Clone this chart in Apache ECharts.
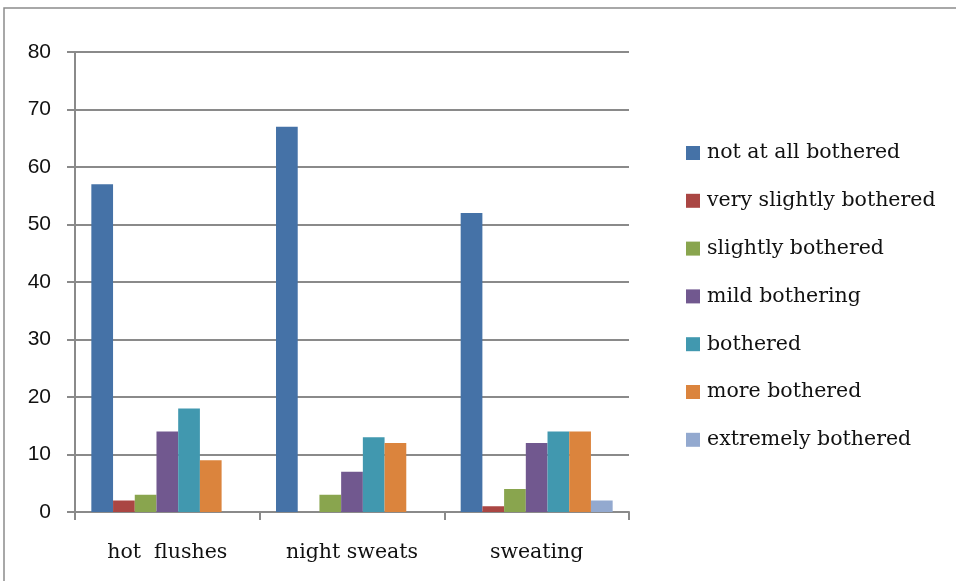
<!DOCTYPE html>
<html>
<head>
<meta charset="utf-8">
<script src="https://cdn.jsdelivr.net/npm/echarts@6/dist/echarts.min.js"></script>
<style>
  html, body { margin: 0; padding: 0; background: #ffffff; }
  #chart { width: 956px; height: 581px; }
</style>
</head>
<body>
<div id="chart"></div>
<script>
// Symptom categories along the x axis
const categories = ['hot  flushes', 'night sweats', 'sweating'];

// One array per response level (values per category)
const notAtAllBothered      = [57, 67, 52];
const verySlightlyBothered  = [2, 0, 1];
const slightlyBothered      = [3, 3, 4];
const mildBothering         = [14, 7, 12];
const bothered              = [18, 13, 14];
const moreBothered          = [9, 12, 14];
const extremelyBothered     = [0, 0, 2];

const seriesNames = [
  'not at all bothered', 'very slightly bothered', 'slightly bothered',
  'mild bothering', 'bothered', 'more bothered', 'extremely bothered'
];
const seriesValues = [
  notAtAllBothered, verySlightlyBothered, slightlyBothered,
  mildBothering, bothered, moreBothered, extremelyBothered
];
const seriesColors = ['#4572A7', '#AA4643', '#89A54E', '#71588F', '#4198AF', '#DB843D', '#93A9CF'];

// Y axis range and step
const yMin = 0, yMax = 80, yStep = 10;

const gridColor = '#8a8a8a';
const serif = '"DejaVu Serif", "Liberation Serif", serif';

const chart = echarts.init(document.getElementById('chart'), null, { renderer: 'canvas' });

chart.setOption({
  animation: false,
  backgroundColor: '#ffffff',
  color: seriesColors,
  graphic: [{
    type: 'rect',
    shape: { x: 4, y: 8, width: 1000, height: 700 },
    style: { fill: 'none', stroke: '#8c8c8c', lineWidth: 1.5 },
    silent: true
  }],
  grid: { left: 75, right: 956 - 629, top: 52, bottom: 581 - 512, containLabel: false },
  legend: {
    orient: 'vertical',
    left: 686,
    top: 142,
    padding: 0,
    icon: 'rect',
    itemWidth: 14,
    itemHeight: 14,
    itemGap: 25.8,
    textStyle: { fontFamily: serif, fontSize: 20.5, color: '#111', lineHeight: 22, padding: [0, 0, 0, 2] },
    data: seriesNames
  },
  xAxis: {
    type: 'category',
    data: categories,
    axisLine: { lineStyle: { color: gridColor, width: 2 } },
    axisTick: { show: true, alignWithLabel: false, length: 8, lineStyle: { color: gridColor, width: 2 } },
    axisLabel: { fontFamily: serif, fontSize: 20.5, color: '#111', margin: 30 }
  },
  yAxis: {
    type: 'value',
    min: yMin,
    max: yMax,
    interval: yStep,
    axisLine: { show: true, lineStyle: { color: gridColor, width: 2 } },
    axisTick: { show: true, inside: false, length: 8, lineStyle: { color: gridColor, width: 2 } },
    splitLine: { show: true, lineStyle: { color: gridColor, width: 2 } },
    axisLabel: { fontFamily: '"Liberation Sans", Arial, sans-serif', fontSize: 21, color: '#111', margin: 24 }
  },
  series: seriesNames.map((name, i) => ({
    name: name,
    type: 'bar',
    data: seriesValues[i],
    barGap: '0%',
    barCategoryGap: '17.7%',
    itemStyle: { color: seriesColors[i] }
  }))
});
</script>
</body>
</html>
